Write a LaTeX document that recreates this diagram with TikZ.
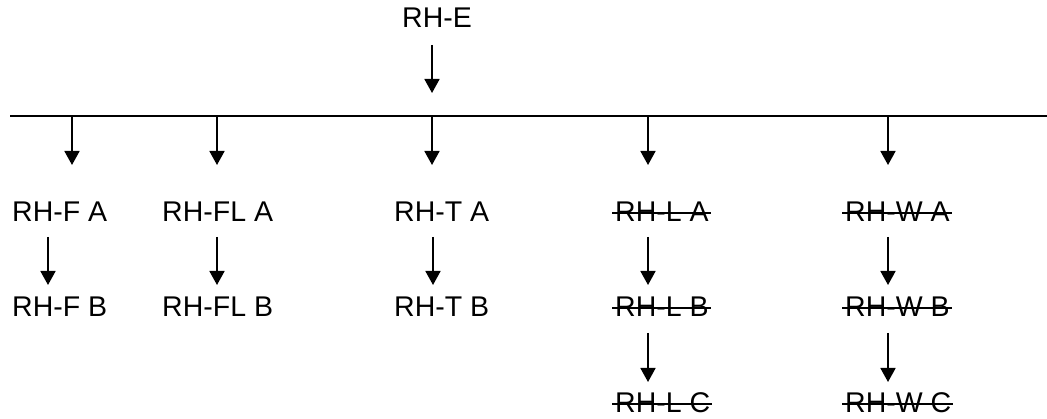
\documentclass[tikz,border=0pt]{standalone}
\usepackage{fontspec}
\setmainfont{Liberation Sans}
\usetikzlibrary{arrows.meta,calc}
\tikzset{
  lbl/.style={anchor=base west, inner sep=0pt, font=\fontsize{28.5}{34}\selectfont},
  arr/.style={line width=1.8pt, -{Triangle[length=14pt,width=15pt]}},
  strike/.style={line width=1.8pt},
  bus/.style={line width=1.6pt}
}
\begin{document}
\begin{tikzpicture}[x=1pt,y=-1pt]
\useasboundingbox (0,0) rectangle (1047,419);
% top
\node[lbl] (e) at (402,28) {RH-E};
\draw[arr] (e.base west) ++(30,17) -- ++(0,48);
\coordinate (busL) at (10,116);
\coordinate (busR) at (1047,116);
\draw[bus] (busL) -- (busR);
% columns
\node[lbl] (fa) at (12,222) {RH-F A};
\node[lbl] (fb) at (12,317) {RH-F B};
\node[lbl] (fla) at (162,222) {RH-FL A};
\node[lbl] (flb) at (162,317) {RH-FL B};
\node[lbl] (ta) at (394,222) {RH-T A};
\node[lbl] (tb) at (394,317) {RH-T B};
\node[lbl] (la) at (615,222) {RH-L A};
\node[lbl] (lb) at (615,317) {RH-L B};
\node[lbl] (lc) at (615,413) {RH-L C};
\node[lbl] (wa) at (845,222) {RH-W A};
\node[lbl] (wb) at (845,317) {RH-W B};
\node[lbl] (wc) at (845,413) {RH-W C};
% arrows from bus
\foreach \x/\n in {72/F,217/FL,432/T,648/L,888/W}{
  \coordinate (t\n) at (\x,117);
  \draw[arr] (t\n) -- ++(0,48);
}
% arrows between rows
\draw[arr] (fa.base west) ++(36,15) -- ++(0,48);
\draw[arr] (fla.base west) ++(55,15) -- ++(0,48);
\draw[arr] (ta.base west) ++(39,15) -- ++(0,48);
\draw[arr] (la.base west) ++(33,15) -- ++(0,48);
\draw[arr] (lb.base west) ++(33,16) -- ++(0,49);
\draw[arr] (wa.base west) ++(43,15) -- ++(0,48);
\draw[arr] (wb.base west) ++(43,16) -- ++(0,49);
% strikethroughs
\foreach \n in {la,lb,lc,wa,wb,wc}{
  \draw[strike] ($(\n.base west)+(-3,-9)$) -- ($(\n.base east)+(2,-9)$);
}
\end{tikzpicture}
\end{document}
